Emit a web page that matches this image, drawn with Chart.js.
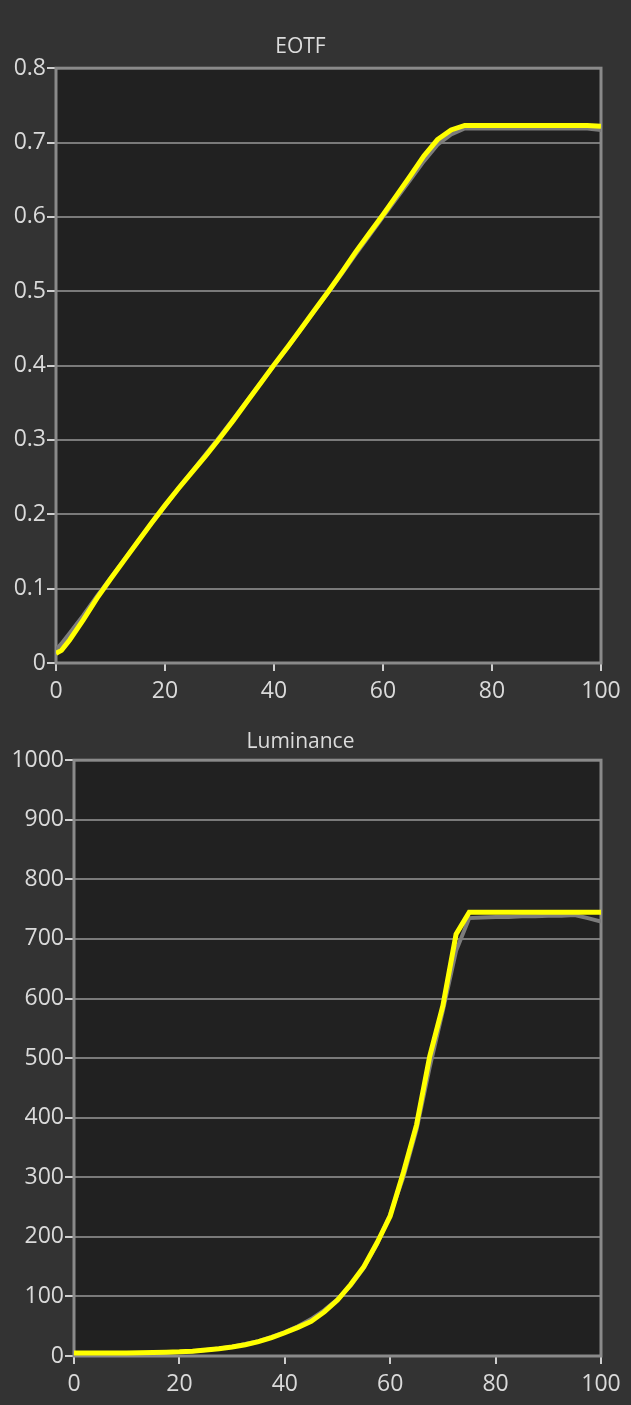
<!DOCTYPE html>
<html>
<head>
<meta charset="utf-8">
<script src="https://cdn.jsdelivr.net/npm/chart.js@4/dist/chart.umd.min.js"></script>
<style>
    html, body { margin: 0; padding: 0; background: #333333; }
    body { width: 631px; height: 1405px; position: relative; overflow: hidden; }
    canvas { position: absolute; left: 0; }
    #eotf-chart { top: 0; }
    #luminance-chart { top: 712px; }
</style>
</head>
<body>
<canvas id="eotf-chart" width="631" height="712"></canvas>
<canvas id="luminance-chart" width="631" height="693"></canvas>
<script>
// stimulus level (%)
const stimulus = [0, 1, 2.5, 5, 7.5, 10, 12.5, 15, 17.5, 20, 22.5, 25, 27.5, 30, 32.5, 35, 37.5, 40,
    42.5, 45, 47.5, 50, 52.5, 55, 57.5, 60, 62.5, 65, 67.5, 70, 72.5, 75, 77.5, 80, 82.5, 85,
    87.5, 90, 92.5, 95, 97.5, 100];

const eotfMeasured = [0.013, 0.017, 0.031, 0.058, 0.087, 0.113, 0.138, 0.163, 0.188, 0.212, 0.235,
    0.257, 0.279, 0.302, 0.326, 0.351, 0.376, 0.401, 0.425, 0.450, 0.475, 0.500, 0.526, 0.553,
    0.578, 0.603, 0.629, 0.655, 0.682, 0.704, 0.717, 0.723, 0.723, 0.723, 0.723, 0.723, 0.723,
    0.723, 0.723, 0.723, 0.723, 0.722];
const eotfTarget = [0.018, 0.026, 0.040, 0.064, 0.090, 0.114, 0.139, 0.163, 0.188, 0.211, 0.235,
    0.258, 0.281, 0.304, 0.328, 0.352, 0.376, 0.400, 0.424, 0.449, 0.474, 0.499, 0.524, 0.550,
    0.575, 0.600, 0.625, 0.650, 0.675, 0.697, 0.711, 0.719, 0.719, 0.719, 0.719, 0.719, 0.719,
    0.719, 0.719, 0.719, 0.719, 0.717];

const lumMeasured = [5, 5, 5, 5, 5, 5, 5.5, 6, 6.5, 7, 8, 10, 12, 15, 19, 24, 31, 39, 48, 58, 74,
    94, 120, 150, 190, 235, 308, 388, 503, 588, 708, 745, 745, 745, 745, 745, 745, 745, 745, 745,
    745, 745];
const lumTarget = [2, 2, 2, 2.5, 3, 3.5, 4, 4.5, 5.5, 6.5, 8, 10, 12.5, 15.5, 20, 25, 32, 40, 50,
    62, 77, 95, 118, 148, 188, 238, 300, 380, 485, 580, 680, 735, 736, 737, 737, 738, 738, 739,
    739, 740, 735, 729];

const xTicks = [0, 20, 40, 60, 80, 100];

const textColor = '#dadada';
const fontFamily = '"Open Sans", "Noto Sans", sans-serif';
const tickFont = { family: fontFamily, size: 23 };

// dark plot area plus frame on all four sides
const plotFrame = {
    id: 'plotFrame',
    beforeDraw(chart) {
        const { ctx, chartArea: a } = chart;
        ctx.save();
        ctx.fillStyle = '#212121';
        ctx.fillRect(a.left, a.top, a.right - a.left, a.bottom - a.top);
        ctx.restore();
    },
    beforeDatasetsDraw(chart) {
        const { ctx, chartArea: a } = chart;
        ctx.save();
        ctx.strokeStyle = '#8a8a8a';
        ctx.lineWidth = 3;
        ctx.strokeRect(a.left, a.top, a.right - a.left, a.bottom - a.top);
        ctx.restore();
    }
};

function toPoints(values) {
    return stimulus.map((x, i) => ({ x: x, y: values[i] }));
}

function buildChart(id, title, measured, target, yMax, yStep, yWidth, titlePad, decimals) {
    const ctx = document.getElementById(id).getContext('2d');
    return new Chart(ctx, {
        type: 'line',
        data: {
            datasets: [{
                label: 'Measured',
                data: toPoints(measured),
                borderColor: '#ffff00',
                borderWidth: 5,
                pointRadius: 0,
                tension: 0
            }, {
                label: 'Target',
                data: toPoints(target),
                borderColor: '#7c7c7c',
                borderWidth: 4,
                pointRadius: 0,
                tension: 0
            }]
        },
        options: {
            responsive: false,
            animation: false,
            layout: { padding: { left: 0, right: 30, top: 0, bottom: 0 } },
            plugins: {
                legend: { display: false },
                tooltip: { enabled: false },
                title: {
                    display: true,
                    text: title,
                    color: '#dcdcdc',
                    font: { family: fontFamily, size: 21, weight: 'normal' },
                    padding: titlePad
                }
            },
            scales: {
                x: {
                    type: 'linear',
                    min: 0,
                    max: 100,
                    afterBuildTicks: scale => { scale.ticks = xTicks.map(v => ({ value: v })); },
                    afterFit: scale => { scale.height = 49; },
                    grid: { drawOnChartArea: false, tickLength: 8, tickColor: '#cfcfcf', lineWidth: 2 },
                    border: { display: false },
                    ticks: { color: textColor, font: tickFont, padding: 7, maxRotation: 0 }
                },
                y: {
                    min: 0,
                    max: yMax,
                    afterFit: scale => { scale.width = yWidth; },
                    grid: { color: '#7a7a7a', tickColor: '#cfcfcf', tickLength: 9, lineWidth: 2 },
                    border: { display: false },
                    ticks: {
                        stepSize: yStep,
                        color: textColor,
                        font: tickFont,
                        padding: 1,
                        callback: value => String(Number(value.toFixed(decimals)))
                    }
                }
            }
        },
        plugins: [plotFrame]
    });
}

buildChart('eotf-chart', 'EOTF', eotfMeasured, eotfTarget, 0.8, 0.1, 56, { top: 34, bottom: 9 }, 1);
buildChart('luminance-chart', 'Luminance', lumMeasured, lumTarget, 1000, 100, 74, { top: 17, bottom: 6 }, 0);
</script>
</body>
</html>
